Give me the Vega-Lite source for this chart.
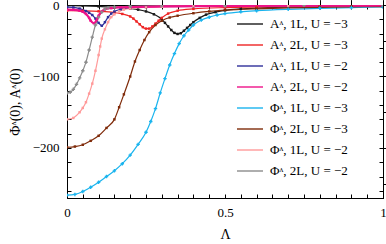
{
  "$schema": "https://vega.github.io/schema/vega-lite/v6.json",
  "width": 316,
  "height": 193,
  "autosize": {"type": "none"},
  "padding": {"left": 67, "top": 5, "right": 3, "bottom": 46},
  "background": "white",
  "config": {
    "view": {"stroke": "black", "strokeWidth": 1},
    "axis": {
      "labelFont": "Liberation Serif", "labelFontSize": 13, "labelColor": "black",
      "titleFont": "Liberation Serif", "titleFontSize": 14, "titleFontWeight": "normal", "titleColor": "black",
      "domainColor": "black", "tickColor": "black", "grid": false
    }
  },
  "data": {"values": [
    {"s":"Aᶺ, 1L, U = −3","x":0,"y":-1},{"s":"Aᶺ, 1L, U = −3","x":0.05,"y":-1.3},{"s":"Aᶺ, 1L, U = −3","x":0.1,"y":-2},{"s":"Aᶺ, 1L, U = −3","x":0.15,"y":-3},{"s":"Aᶺ, 1L, U = −3","x":0.2,"y":-5},{"s":"Aᶺ, 1L, U = −3","x":0.225,"y":-6.5},{"s":"Aᶺ, 1L, U = −3","x":0.25,"y":-9},{"s":"Aᶺ, 1L, U = −3","x":0.275,"y":-13},{"s":"Aᶺ, 1L, U = −3","x":0.3,"y":-20},{"s":"Aᶺ, 1L, U = −3","x":0.31,"y":-25},{"s":"Aᶺ, 1L, U = −3","x":0.32,"y":-30},{"s":"Aᶺ, 1L, U = −3","x":0.33,"y":-35},{"s":"Aᶺ, 1L, U = −3","x":0.34,"y":-39},{"s":"Aᶺ, 1L, U = −3","x":0.35,"y":-40.5},{"s":"Aᶺ, 1L, U = −3","x":0.36,"y":-39.5},{"s":"Aᶺ, 1L, U = −3","x":0.37,"y":-36},{"s":"Aᶺ, 1L, U = −3","x":0.38,"y":-32},{"s":"Aᶺ, 1L, U = −3","x":0.39,"y":-28},{"s":"Aᶺ, 1L, U = −3","x":0.4,"y":-24},{"s":"Aᶺ, 1L, U = −3","x":0.42,"y":-18},{"s":"Aᶺ, 1L, U = −3","x":0.44,"y":-13.5},{"s":"Aᶺ, 1L, U = −3","x":0.47,"y":-10},{"s":"Aᶺ, 1L, U = −3","x":0.5,"y":-7.5},{"s":"Aᶺ, 1L, U = −3","x":0.55,"y":-5.5},{"s":"Aᶺ, 1L, U = −3","x":0.6,"y":-4.3},{"s":"Aᶺ, 1L, U = −3","x":0.7,"y":-3},{"s":"Aᶺ, 1L, U = −3","x":0.8,"y":-2.3},{"s":"Aᶺ, 1L, U = −3","x":0.9,"y":-1.9},{"s":"Aᶺ, 1L, U = −3","x":1,"y":-1.6},

    {"s":"Aᶺ, 2L, U = −3","x":0,"y":-8},{"s":"Aᶺ, 2L, U = −3","x":0.05,"y":-8.2},{"s":"Aᶺ, 2L, U = −3","x":0.1,"y":-8.8},{"s":"Aᶺ, 2L, U = −3","x":0.15,"y":-10.5},{"s":"Aᶺ, 2L, U = −3","x":0.175,"y":-12.5},{"s":"Aᶺ, 2L, U = −3","x":0.2,"y":-16},{"s":"Aᶺ, 2L, U = −3","x":0.21,"y":-19},{"s":"Aᶺ, 2L, U = −3","x":0.22,"y":-23},{"s":"Aᶺ, 2L, U = −3","x":0.23,"y":-27},{"s":"Aᶺ, 2L, U = −3","x":0.24,"y":-31},{"s":"Aᶺ, 2L, U = −3","x":0.25,"y":-33},{"s":"Aᶺ, 2L, U = −3","x":0.26,"y":-33},{"s":"Aᶺ, 2L, U = −3","x":0.27,"y":-30},{"s":"Aᶺ, 2L, U = −3","x":0.28,"y":-26},{"s":"Aᶺ, 2L, U = −3","x":0.29,"y":-22},{"s":"Aᶺ, 2L, U = −3","x":0.3,"y":-18},{"s":"Aᶺ, 2L, U = −3","x":0.32,"y":-12},{"s":"Aᶺ, 2L, U = −3","x":0.35,"y":-8},{"s":"Aᶺ, 2L, U = −3","x":0.4,"y":-5.5},{"s":"Aᶺ, 2L, U = −3","x":0.5,"y":-3.6},{"s":"Aᶺ, 2L, U = −3","x":0.6,"y":-2.8},{"s":"Aᶺ, 2L, U = −3","x":0.7,"y":-2.3},{"s":"Aᶺ, 2L, U = −3","x":0.8,"y":-2},{"s":"Aᶺ, 2L, U = −3","x":0.9,"y":-1.8},{"s":"Aᶺ, 2L, U = −3","x":1,"y":-1.6},

    {"s":"Aᶺ, 1L, U = −2","x":0,"y":-3},{"s":"Aᶺ, 1L, U = −2","x":0.02,"y":-3.4},{"s":"Aᶺ, 1L, U = −2","x":0.04,"y":-5},{"s":"Aᶺ, 1L, U = −2","x":0.06,"y":-8.5},{"s":"Aᶺ, 1L, U = −2","x":0.07,"y":-11},{"s":"Aᶺ, 1L, U = −2","x":0.08,"y":-14},{"s":"Aᶺ, 1L, U = −2","x":0.09,"y":-19},{"s":"Aᶺ, 1L, U = −2","x":0.1,"y":-25},{"s":"Aᶺ, 1L, U = −2","x":0.11,"y":-29},{"s":"Aᶺ, 1L, U = −2","x":0.12,"y":-24},{"s":"Aᶺ, 1L, U = −2","x":0.13,"y":-17},{"s":"Aᶺ, 1L, U = −2","x":0.14,"y":-12},{"s":"Aᶺ, 1L, U = −2","x":0.15,"y":-9},{"s":"Aᶺ, 1L, U = −2","x":0.17,"y":-6},{"s":"Aᶺ, 1L, U = −2","x":0.2,"y":-4.2},{"s":"Aᶺ, 1L, U = −2","x":0.25,"y":-3},{"s":"Aᶺ, 1L, U = −2","x":0.3,"y":-2.4},{"s":"Aᶺ, 1L, U = −2","x":0.4,"y":-1.8},{"s":"Aᶺ, 1L, U = −2","x":0.5,"y":-1.5},{"s":"Aᶺ, 1L, U = −2","x":0.7,"y":-1.1},{"s":"Aᶺ, 1L, U = −2","x":1,"y":-0.8},

    {"s":"Aᶺ, 2L, U = −2","x":0,"y":-6.5},{"s":"Aᶺ, 2L, U = −2","x":0.02,"y":-6.8},{"s":"Aᶺ, 2L, U = −2","x":0.04,"y":-8},{"s":"Aᶺ, 2L, U = −2","x":0.05,"y":-9.5},{"s":"Aᶺ, 2L, U = −2","x":0.06,"y":-12.5},{"s":"Aᶺ, 2L, U = −2","x":0.07,"y":-18},{"s":"Aᶺ, 2L, U = −2","x":0.075,"y":-22},{"s":"Aᶺ, 2L, U = −2","x":0.085,"y":-25.5},{"s":"Aᶺ, 2L, U = −2","x":0.095,"y":-20},{"s":"Aᶺ, 2L, U = −2","x":0.1,"y":-15},{"s":"Aᶺ, 2L, U = −2","x":0.11,"y":-9},{"s":"Aᶺ, 2L, U = −2","x":0.12,"y":-6},{"s":"Aᶺ, 2L, U = −2","x":0.14,"y":-4.3},{"s":"Aᶺ, 2L, U = −2","x":0.17,"y":-3.3},{"s":"Aᶺ, 2L, U = −2","x":0.2,"y":-2.8},{"s":"Aᶺ, 2L, U = −2","x":0.3,"y":-2},{"s":"Aᶺ, 2L, U = −2","x":0.5,"y":-1.3},{"s":"Aᶺ, 2L, U = −2","x":0.7,"y":-1},{"s":"Aᶺ, 2L, U = −2","x":1,"y":-0.7},

    {"s":"Φᶺ, 1L, U = −3","x":0,"y":-266},{"s":"Φᶺ, 1L, U = −3","x":0.025,"y":-265},{"s":"Φᶺ, 1L, U = −3","x":0.05,"y":-261},{"s":"Φᶺ, 1L, U = −3","x":0.075,"y":-255},{"s":"Φᶺ, 1L, U = −3","x":0.1,"y":-248},{"s":"Φᶺ, 1L, U = −3","x":0.125,"y":-240},{"s":"Φᶺ, 1L, U = −3","x":0.15,"y":-232},{"s":"Φᶺ, 1L, U = −3","x":0.175,"y":-222},{"s":"Φᶺ, 1L, U = −3","x":0.2,"y":-210},{"s":"Φᶺ, 1L, U = −3","x":0.225,"y":-195},{"s":"Φᶺ, 1L, U = −3","x":0.25,"y":-178},{"s":"Φᶺ, 1L, U = −3","x":0.265,"y":-163},{"s":"Φᶺ, 1L, U = −3","x":0.28,"y":-145},{"s":"Φᶺ, 1L, U = −3","x":0.295,"y":-123},{"s":"Φᶺ, 1L, U = −3","x":0.31,"y":-103},{"s":"Φᶺ, 1L, U = −3","x":0.325,"y":-84},{"s":"Φᶺ, 1L, U = −3","x":0.34,"y":-68},{"s":"Φᶺ, 1L, U = −3","x":0.355,"y":-54},{"s":"Φᶺ, 1L, U = −3","x":0.37,"y":-43},{"s":"Φᶺ, 1L, U = −3","x":0.385,"y":-35},{"s":"Φᶺ, 1L, U = −3","x":0.4,"y":-28},{"s":"Φᶺ, 1L, U = −3","x":0.425,"y":-21},{"s":"Φᶺ, 1L, U = −3","x":0.45,"y":-17},{"s":"Φᶺ, 1L, U = −3","x":0.475,"y":-14},{"s":"Φᶺ, 1L, U = −3","x":0.5,"y":-12},{"s":"Φᶺ, 1L, U = −3","x":0.55,"y":-9.5},{"s":"Φᶺ, 1L, U = −3","x":0.6,"y":-8},{"s":"Φᶺ, 1L, U = −3","x":0.7,"y":-6},{"s":"Φᶺ, 1L, U = −3","x":0.8,"y":-4.6},{"s":"Φᶺ, 1L, U = −3","x":0.9,"y":-3.6},{"s":"Φᶺ, 1L, U = −3","x":1,"y":-2.8},

    {"s":"Φᶺ, 2L, U = −3","x":0,"y":-199},{"s":"Φᶺ, 2L, U = −3","x":0.025,"y":-198},{"s":"Φᶺ, 2L, U = −3","x":0.05,"y":-195.5},{"s":"Φᶺ, 2L, U = −3","x":0.075,"y":-190},{"s":"Φᶺ, 2L, U = −3","x":0.1,"y":-183},{"s":"Φᶺ, 2L, U = −3","x":0.125,"y":-172},{"s":"Φᶺ, 2L, U = −3","x":0.15,"y":-160},{"s":"Φᶺ, 2L, U = −3","x":0.165,"y":-143},{"s":"Φᶺ, 2L, U = −3","x":0.18,"y":-125},{"s":"Φᶺ, 2L, U = −3","x":0.2,"y":-100},{"s":"Φᶺ, 2L, U = −3","x":0.215,"y":-79},{"s":"Φᶺ, 2L, U = −3","x":0.23,"y":-63},{"s":"Φᶺ, 2L, U = −3","x":0.245,"y":-49},{"s":"Φᶺ, 2L, U = −3","x":0.26,"y":-38},{"s":"Φᶺ, 2L, U = −3","x":0.28,"y":-28},{"s":"Φᶺ, 2L, U = −3","x":0.3,"y":-22},{"s":"Φᶺ, 2L, U = −3","x":0.325,"y":-17.5},{"s":"Φᶺ, 2L, U = −3","x":0.35,"y":-15},{"s":"Φᶺ, 2L, U = −3","x":0.4,"y":-11.5},{"s":"Φᶺ, 2L, U = −3","x":0.45,"y":-9},{"s":"Φᶺ, 2L, U = −3","x":0.5,"y":-7.3},{"s":"Φᶺ, 2L, U = −3","x":0.6,"y":-5.3},{"s":"Φᶺ, 2L, U = −3","x":0.7,"y":-4},{"s":"Φᶺ, 2L, U = −3","x":0.8,"y":-3.2},{"s":"Φᶺ, 2L, U = −3","x":0.9,"y":-2.6},{"s":"Φᶺ, 2L, U = −3","x":1,"y":-2.2},

    {"s":"Φᶺ, 1L, U = −2","x":0,"y":-160},{"s":"Φᶺ, 1L, U = −2","x":0.02,"y":-158},{"s":"Φᶺ, 1L, U = −2","x":0.04,"y":-150},{"s":"Φᶺ, 1L, U = −2","x":0.05,"y":-144},{"s":"Φᶺ, 1L, U = −2","x":0.06,"y":-136},{"s":"Φᶺ, 1L, U = −2","x":0.07,"y":-124},{"s":"Φᶺ, 1L, U = −2","x":0.08,"y":-110},{"s":"Φᶺ, 1L, U = −2","x":0.09,"y":-92},{"s":"Φᶺ, 1L, U = −2","x":0.1,"y":-70},{"s":"Φᶺ, 1L, U = −2","x":0.105,"y":-58},{"s":"Φᶺ, 1L, U = −2","x":0.11,"y":-47},{"s":"Φᶺ, 1L, U = −2","x":0.12,"y":-34},{"s":"Φᶺ, 1L, U = −2","x":0.13,"y":-24},{"s":"Φᶺ, 1L, U = −2","x":0.14,"y":-17},{"s":"Φᶺ, 1L, U = −2","x":0.15,"y":-13},{"s":"Φᶺ, 1L, U = −2","x":0.165,"y":-9},{"s":"Φᶺ, 1L, U = −2","x":0.18,"y":-6.5},{"s":"Φᶺ, 1L, U = −2","x":0.2,"y":-5},{"s":"Φᶺ, 1L, U = −2","x":0.25,"y":-3.3},{"s":"Φᶺ, 1L, U = −2","x":0.3,"y":-2.5},{"s":"Φᶺ, 1L, U = −2","x":0.4,"y":-1.8},{"s":"Φᶺ, 1L, U = −2","x":0.5,"y":-1.4},{"s":"Φᶺ, 1L, U = −2","x":0.7,"y":-1},{"s":"Φᶺ, 1L, U = −2","x":1,"y":-0.7},

    {"s":"Φᶺ, 2L, U = −2","x":0,"y":-123},{"s":"Φᶺ, 2L, U = −2","x":0.01,"y":-122},{"s":"Φᶺ, 2L, U = −2","x":0.02,"y":-118},{"s":"Φᶺ, 2L, U = −2","x":0.03,"y":-111},{"s":"Φᶺ, 2L, U = −2","x":0.04,"y":-102},{"s":"Φᶺ, 2L, U = −2","x":0.05,"y":-92},{"s":"Φᶺ, 2L, U = −2","x":0.06,"y":-80},{"s":"Φᶺ, 2L, U = −2","x":0.07,"y":-63},{"s":"Φᶺ, 2L, U = −2","x":0.08,"y":-45},{"s":"Φᶺ, 2L, U = −2","x":0.09,"y":-28},{"s":"Φᶺ, 2L, U = −2","x":0.1,"y":-17},{"s":"Φᶺ, 2L, U = −2","x":0.11,"y":-10},{"s":"Φᶺ, 2L, U = −2","x":0.12,"y":-6},{"s":"Φᶺ, 2L, U = −2","x":0.13,"y":-4},{"s":"Φᶺ, 2L, U = −2","x":0.15,"y":-2.8},{"s":"Φᶺ, 2L, U = −2","x":0.2,"y":-1.8},{"s":"Φᶺ, 2L, U = −2","x":0.3,"y":-1.2},{"s":"Φᶺ, 2L, U = −2","x":0.5,"y":-0.8},{"s":"Φᶺ, 2L, U = −2","x":0.75,"y":-0.5},{"s":"Φᶺ, 2L, U = −2","x":1,"y":-0.4}
  ]},
  "layer": [
    {
      "mark": {"type": "line", "interpolate": "monotone", "strokeWidth": 1.2, "clip": true},
      "encoding": {
        "x": {"field": "x", "type": "quantitative", "scale": {"domain": [0, 1], "nice": false},
          "axis": {"title": "Λ", "values": [0,0.05,0.1,0.15,0.2,0.25,0.3,0.35,0.4,0.45,0.5,0.55,0.6,0.65,0.7,0.75,0.8,0.85,0.9,0.95,1],
            "labelExpr": "datum.value == 0 ? '0' : datum.value == 0.5 ? '0.5' : datum.value == 1 ? '1' : ''",
            "tickSize": -4, "labelPadding": 12, "titlePadding": 8, "labelFlush": false}},
        "y": {"field": "y", "type": "quantitative", "scale": {"domain": [-270, 0], "nice": false, "zero": false},
          "axis": {"title": "Φᶺ(0), Aᶺ(0)", "values": [0,-20,-40,-60,-80,-100,-120,-140,-160,-180,-200,-220,-240,-260],
            "format": "d", "labelExpr": "datum.value % 100 == 0 ? datum.label : ''",
            "tickSize": -4, "labelPadding": 12, "titlePadding": 10, "labelFlush": false}},
        "color": {"field": "s", "type": "nominal", "sort": null,
          "scale": {"domain": ["Aᶺ, 1L, U = −3","Aᶺ, 2L, U = −3","Aᶺ, 1L, U = −2","Aᶺ, 2L, U = −2","Φᶺ, 1L, U = −3","Φᶺ, 2L, U = −3","Φᶺ, 1L, U = −2","Φᶺ, 2L, U = −2"],
            "range": ["#1a1a1a","#ee2424","#2e2e9a","#ee1288","#1ab4ee","#7f2b0a","#ff9a9a","#8c8c8c"]},
          "legend": {"title": null, "orient": "none", "legendX": 169, "legendY": 5, "symbolType": "stroke", "symbolSize": 676,
            "symbolStrokeWidth": 1.4, "rowPadding": -3, "labelFont": "Liberation Serif", "labelFontSize": 13,
            "labelColor": "black", "labelOffset": 6, "padding": 0, "labelLimit": 200}}
      }
    },
    {
      "transform": [{"filter": "datum.s == 'Aᶺ, 2L, U = −2'"}],
      "mark": {"type": "line", "interpolate": "monotone", "strokeWidth": 2.2, "clip": true},
      "encoding": {
        "x": {"field": "x", "type": "quantitative"},
        "y": {"field": "y", "type": "quantitative"},
        "color": {"field": "s", "type": "nominal", "sort": null}
      }
    },
    {
      "transform": [{"filter": "datum.s != 'Φᶺ, 2L, U = −2' && datum.s != 'Φᶺ, 1L, U = −3'"}],
      "mark": {"type": "square", "size": 6, "opacity": 1, "clip": true},
      "encoding": {
        "x": {"field": "x", "type": "quantitative"},
        "y": {"field": "y", "type": "quantitative"},
        "fill": {"field": "s", "type": "nominal", "sort": null, "legend": null,
          "scale": {"domain": ["Aᶺ, 1L, U = −3","Aᶺ, 2L, U = −3","Aᶺ, 1L, U = −2","Aᶺ, 2L, U = −2","Φᶺ, 1L, U = −3","Φᶺ, 2L, U = −3","Φᶺ, 1L, U = −2","Φᶺ, 2L, U = −2"],
            "range": ["#1a1a1a","#ee2424","#2e2e9a","#ee1288","#1ab4ee","#7f2b0a","#ff9a9a","#8c8c8c"]}}
      }
    },
    {
      "transform": [{"filter": "datum.s == 'Φᶺ, 2L, U = −2' || datum.s == 'Φᶺ, 1L, U = −3'"}],
      "mark": {"type": "point", "shape": "cross", "filled": true, "size": 12, "opacity": 1, "clip": true},
      "encoding": {
        "x": {"field": "x", "type": "quantitative"},
        "y": {"field": "y", "type": "quantitative"},
        "fill": {"field": "s", "type": "nominal", "sort": null, "legend": null}
      }
    },
    {
      "mark": {"type": "point", "opacity": 0},
      "encoding": {
        "x": {"field": "x", "type": "quantitative", "axis": {"orient": "top", "title": null, "labels": false, "domain": false, "tickSize": -4,
          "values": [0,0.05,0.1,0.15,0.2,0.25,0.3,0.35,0.4,0.45,0.5,0.55,0.6,0.65,0.7,0.75,0.8,0.85,0.9,0.95,1]}},
        "y": {"field": "y", "type": "quantitative", "axis": {"orient": "right", "title": null, "labels": false, "domain": false, "tickSize": -4,
          "values": [0,-20,-40,-60,-80,-100,-120,-140,-160,-180,-200,-220,-240,-260]}}
      }
    }
  ],
  "resolve": {"axis": {"x": "independent", "y": "independent"}}
}
